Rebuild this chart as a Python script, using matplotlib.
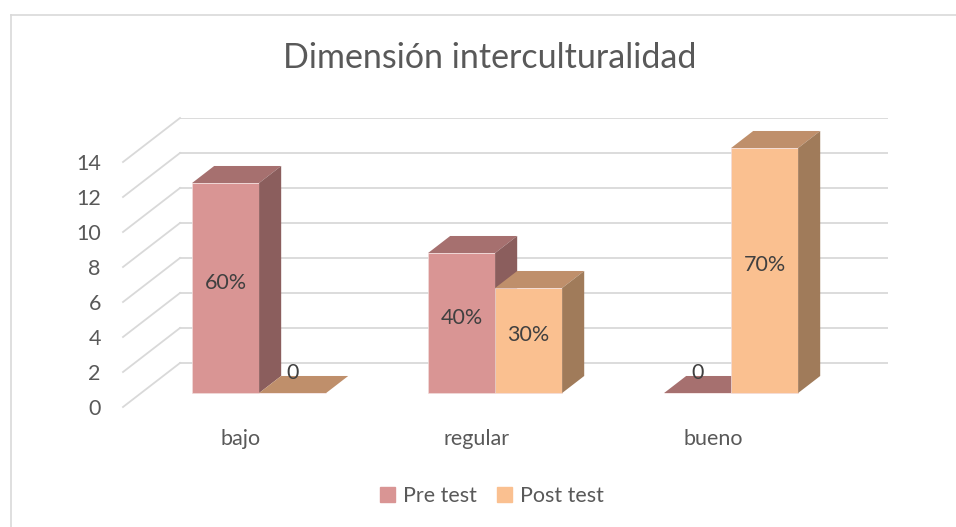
import numpy as np
import matplotlib
matplotlib.use("Agg")
import matplotlib.pyplot as plt
from matplotlib.patches import Polygon
from matplotlib.lines import Line2D

categories = ["bajo", "regular", "bueno"]
pre_test = [12, 8, 0]
post_test = [0, 6, 14]
pre_labels = ["60%", "40%", "0"]
post_labels = ["0", "30%", "70%"]
yticks = [0, 2, 4, 6, 8, 10, 12, 14]

plt.rcParams['font.family'] = ['Lato', 'DejaVu Sans']

# 3d look: depth offsets in data units
DX = 57 / 236
DY = 44 / 17.5
Z0, Z1 = 0.318, 0.705
W = 0.284
FS = 15.5

pre_cols = ("#D99594", "#A6706F", "#8B5E5D")
post_cols = ("#FAC090", "#BF8F6B", "#A07B5A")
grid_col = "#D9D9D9"
txt_col = "#595959"

fig = plt.figure(figsize=(9.56, 5.27), dpi=100)
ax = fig.add_axes([123/956, 1 - 407/527, (888-123)/956, 289/527])
ax.set_xlim(-0.5, 2.5 + DX)
ax.set_ylim(0, 14 + DY)
for s in ax.spines.values():
    s.set_visible(False)

# walls
for v in yticks:
    ax.plot([-0.5 + DX, 2.5 + DX], [v + DY, v + DY], color=grid_col, lw=1.3, zorder=1)
    ax.plot([-0.5, -0.5 + DX], [v, v + DY], color=grid_col, lw=1.3, zorder=1, clip_on=False)

ax.set_yticks(yticks)
ax.set_yticklabels([str(v) for v in yticks])
ax.set_xticks(range(len(categories)))
ax.set_xticklabels(categories)
ax.tick_params(axis='y', length=0, pad=16, labelsize=FS, labelcolor=txt_col)
ax.tick_params(axis='x', length=0, pad=16, labelsize=FS, labelcolor=txt_col)


def bar3d(x0, v, cols, label):
    fx = x0 + Z0 * DX
    ax.bar(fx, v, width=W, bottom=Z0 * DY, align='edge', color=cols[0],
           edgecolor="#F2DCDB", lw=0.5, zorder=3)
    top = [(fx, v + Z0 * DY), (fx + W, v + Z0 * DY),
           (x0 + W + Z1 * DX, v + Z1 * DY), (x0 + Z1 * DX, v + Z1 * DY)]
    ax.add_patch(Polygon(top, closed=True, color=cols[1], lw=0, zorder=3))
    side = [(fx + W, Z0 * DY), (x0 + W + Z1 * DX, Z1 * DY),
            (x0 + W + Z1 * DX, v + Z1 * DY), (fx + W, v + Z0 * DY)]
    ax.add_patch(Polygon(side, closed=True, color=cols[2], lw=0, zorder=3))
    if v > 0:
        ax.text(fx + W / 2, Z0 * DY + v / 2 + 0.3, label, ha='center', va='center',
                fontsize=FS, color="#404040", zorder=5)
    else:
        ax.text(fx + W / 2, (Z0 + Z1) / 2 * DY + 0.1, label, ha='center', va='bottom',
                fontsize=FS, color="#404040", zorder=5)


for i in range(len(categories)):
    bar3d(i - W, pre_test[i], pre_cols, pre_labels[i])
    bar3d(i, post_test[i], post_cols, post_labels[i])

fig.text(490/956, 1 - 58/527, "Dimensión interculturalidad", ha='center', va='center',
         fontsize=24.5, color=txt_col)

# chart border
fig.add_artist(Line2D([10.5/956, 1], [1 - 14.5/527] * 2, color=grid_col, lw=1.2))
fig.add_artist(Line2D([10.5/956] * 2, [0, 1 - 14.5/527], color=grid_col, lw=1.2))

handles = [plt.Rectangle((0, 0), 1, 1, color=pre_cols[0]),
           plt.Rectangle((0, 0), 1, 1, color=post_cols[0])]
fig.legend(handles, ["Pre test", "Post test"], loc='center', bbox_to_anchor=(492/956, 1 - 496/527),
           ncol=2, frameon=False, fontsize=FS, labelcolor=txt_col, handlelength=0.7,
           handleheight=0.7, handletextpad=0.4, columnspacing=0.9)

fig.savefig("out.png", dpi=100)
